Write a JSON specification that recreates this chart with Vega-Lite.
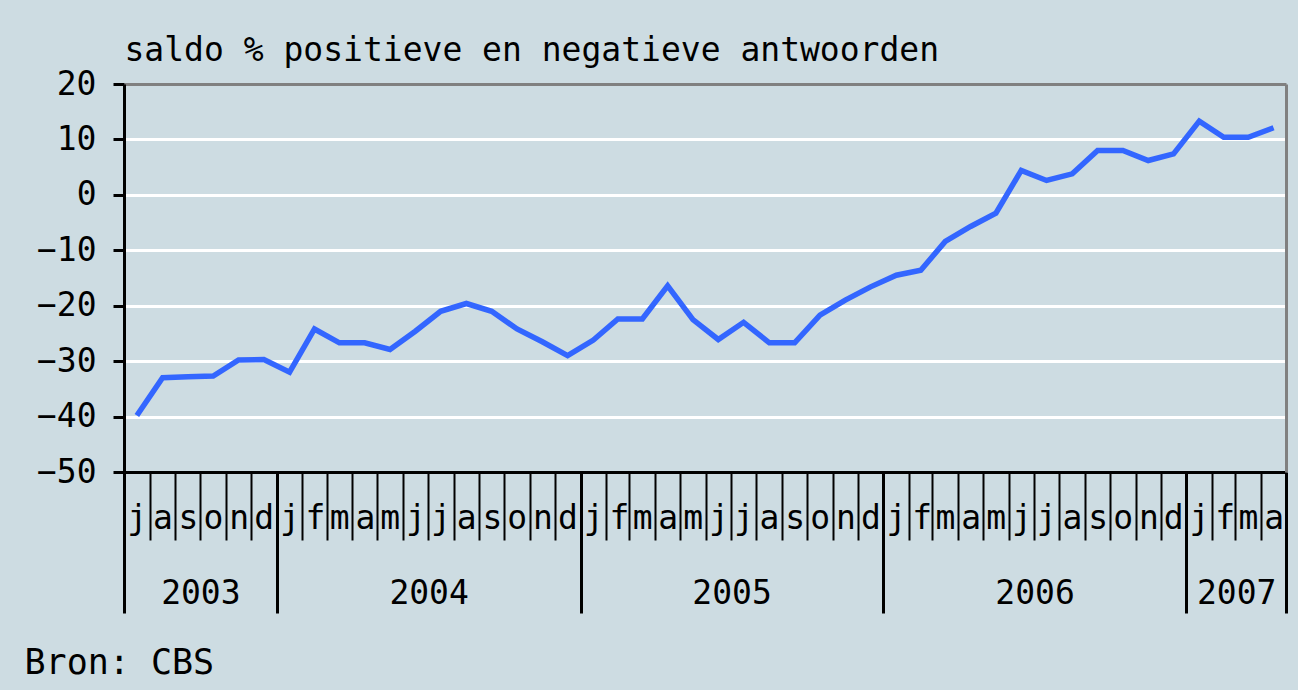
{
  "$schema": "https://vega.github.io/schema/vega-lite/v6.json",
  "width": 1162,
  "height": 388,
  "autosize": {"type": "none"},
  "padding": {"left": 124, "top": 84, "right": 12, "bottom": 218},
  "background": "#cddce2",
  "config": {
    "view": {"stroke": null},
    "axis": {"labelFont": "DejaVu Sans Mono", "labelColor": "black", "titleFont": "DejaVu Sans Mono", "titleColor": "black"}
  },
  "data": {
    "values": [
      {"maand": "2003/07/01", "saldo": -39.8},
      {"maand": "2003/08/01", "saldo": -33},
      {"maand": "2003/09/01", "saldo": -32.8},
      {"maand": "2003/10/01", "saldo": -32.7},
      {"maand": "2003/11/01", "saldo": -29.8},
      {"maand": "2003/12/01", "saldo": -29.7},
      {"maand": "2004/01/01", "saldo": -32},
      {"maand": "2004/02/01", "saldo": -24.2},
      {"maand": "2004/03/01", "saldo": -26.7},
      {"maand": "2004/04/01", "saldo": -26.7},
      {"maand": "2004/05/01", "saldo": -27.9},
      {"maand": "2004/06/01", "saldo": -24.6},
      {"maand": "2004/07/01", "saldo": -21},
      {"maand": "2004/08/01", "saldo": -19.6},
      {"maand": "2004/09/01", "saldo": -21},
      {"maand": "2004/10/01", "saldo": -24.2},
      {"maand": "2004/11/01", "saldo": -26.5},
      {"maand": "2004/12/01", "saldo": -29},
      {"maand": "2005/01/01", "saldo": -26.2},
      {"maand": "2005/02/01", "saldo": -22.4},
      {"maand": "2005/03/01", "saldo": -22.4},
      {"maand": "2005/04/01", "saldo": -16.4},
      {"maand": "2005/05/01", "saldo": -22.5},
      {"maand": "2005/06/01", "saldo": -26.1},
      {"maand": "2005/07/01", "saldo": -23},
      {"maand": "2005/08/01", "saldo": -26.7},
      {"maand": "2005/09/01", "saldo": -26.7},
      {"maand": "2005/10/01", "saldo": -21.7},
      {"maand": "2005/11/01", "saldo": -19},
      {"maand": "2005/12/01", "saldo": -16.6},
      {"maand": "2006/01/01", "saldo": -14.5},
      {"maand": "2006/02/01", "saldo": -13.6},
      {"maand": "2006/03/01", "saldo": -8.4},
      {"maand": "2006/04/01", "saldo": -5.7},
      {"maand": "2006/05/01", "saldo": -3.3},
      {"maand": "2006/06/01", "saldo": 4.4},
      {"maand": "2006/07/01", "saldo": 2.6},
      {"maand": "2006/08/01", "saldo": 3.8},
      {"maand": "2006/09/01", "saldo": 8},
      {"maand": "2006/10/01", "saldo": 8},
      {"maand": "2006/11/01", "saldo": 6.2},
      {"maand": "2006/12/01", "saldo": 7.4},
      {"maand": "2007/01/01", "saldo": 13.3},
      {"maand": "2007/02/01", "saldo": 10.4},
      {"maand": "2007/03/01", "saldo": 10.4},
      {"maand": "2007/04/01", "saldo": 12.1}
    ]
  },
  "resolve": {"axis": {"x": "independent", "y": "independent"}},
  "layer": [
    {
      "mark": {"type": "line", "opacity": 0},
      "encoding": {
        "x": {
          "field": "maand", "type": "temporal", "timeUnit": "yearmonth", "bandPosition": 0.5,
          "scale": {"domain": [{"year": 2003, "month": 7, "date": 1}, {"year": 2007, "month": 5, "date": 1}]},
          "axis": {
            "orient": "bottom", "domain": false, "ticks": false, "tickSize": 0, "grid": false,
            "tickCount": {"interval": "month", "step": 1},
            "labelExpr": "datum.value >= datetime(2007, 4, 1) ? '' : lower(substring(timeFormat(datum.value, '%b'), 0, 1))",
            "labelPadding": 56, "labelBaseline": "alphabetic", "labelOffset": 12.6,
            "labelOverlap": false, "labelFlush": false, "labelBound": false,
            "labelFontSize": 33, "title": null, "zindex": 1
          }
        },
        "y": {
          "field": "saldo", "type": "quantitative",
          "scale": {"domain": [-50, 20], "nice": false, "zero": false},
          "axis": {
            "orient": "left", "grid": true, "gridColor": "white", "gridWidth": 3, "gridOpacity": 1,
            "domain": false, "ticks": false, "labels": false, "title": null,
            "values": [-40, -30, -20, -10, 0, 10], "zindex": 0
          }
        }
      }
    },
    {
      "mark": {"type": "line", "color": "#3366ff", "strokeWidth": 5.5},
      "encoding": {
        "x": {
          "field": "maand", "type": "temporal", "timeUnit": "yearmonth", "bandPosition": 0.5,
          "axis": {
            "orient": "bottom", "domain": true, "domainColor": "black", "domainWidth": 3,
            "ticks": true, "tickColor": "black", "tickWidth": 2, "tickSize": 68,
            "tickCount": {"interval": "month", "step": 1},
            "labels": false, "grid": false, "title": null, "zindex": 1
          }
        },
        "y": {
          "field": "saldo", "type": "quantitative",
          "axis": {
            "orient": "left", "values": [-50, -40, -30, -20, -10, 0, 10, 20],
            "domain": true, "domainColor": "black", "domainWidth": 3,
            "ticks": true, "tickColor": "black", "tickWidth": 3, "tickSize": 11,
            "labelPadding": 17, "labelFontSize": 33, "labelBaseline": "middle",
            "labelFlush": false, "labelBound": false,
            "grid": false, "title": null, "zindex": 1
          }
        }
      }
    },
    {
      "mark": {"type": "line", "opacity": 0},
      "encoding": {
        "x": {
          "field": "maand", "type": "temporal", "timeUnit": "yearmonth", "bandPosition": 0.5,
          "axis": {
            "orient": "bottom", "domain": false, "ticks": true, "tickColor": "black", "tickWidth": 3, "tickSize": 141,
            "values": [
              {"year": 2003, "month": 7, "date": 1},
              {"year": 2004, "month": 1, "date": 1},
              {"year": 2005, "month": 1, "date": 1},
              {"year": 2006, "month": 1, "date": 1},
              {"year": 2007, "month": 1, "date": 1},
              {"year": 2007, "month": 5, "date": 1}
            ],
            "labels": false, "grid": false, "title": null, "zindex": 1
          }
        },
        "y": {
          "field": "saldo", "type": "quantitative",
          "axis": {
            "orient": "right", "domain": true, "domainColor": "#808080", "domainWidth": 3,
            "ticks": false, "labels": false, "grid": false, "title": null, "zindex": 1
          }
        }
      }
    },
    {
      "mark": {"type": "line", "opacity": 0},
      "encoding": {
        "x": {
          "field": "maand", "type": "temporal", "timeUnit": "yearmonth", "bandPosition": 0.5,
          "axis": {
            "orient": "bottom", "domain": false, "ticks": false, "tickSize": 0, "grid": false,
            "values": [
              {"year": 2003, "month": 10, "date": 1},
              {"year": 2004, "month": 7, "date": 2},
              {"year": 2005, "month": 7, "date": 2},
              {"year": 2006, "month": 7, "date": 2},
              {"year": 2007, "month": 3, "date": 2}
            ],
            "format": "%Y",
            "labelPadding": 131, "labelBaseline": "alphabetic", "labelFontSize": 33,
            "labelOverlap": false, "labelFlush": false, "labelBound": false,
            "title": "Bron: CBS", "titleX": -100, "titleY": 201, "titleAlign": "left",
            "titleBaseline": "alphabetic", "titleAngle": 0, "titleFontSize": 35,
            "titleFontWeight": "normal", "zindex": 1
          }
        },
        "y": {"field": "saldo", "type": "quantitative", "axis": null}
      }
    },
    {
      "mark": {"type": "line", "opacity": 0},
      "encoding": {
        "x": {
          "field": "maand", "type": "temporal", "timeUnit": "yearmonth", "bandPosition": 0.5,
          "axis": {
            "orient": "top", "domain": true, "domainColor": "#808080", "domainWidth": 3,
            "ticks": false, "labels": false, "grid": false,
            "title": "saldo % positieve en negatieve antwoorden",
            "titleX": 0, "titleY": -24, "titleAlign": "left", "titleBaseline": "alphabetic",
            "titleAngle": 0, "titleFontSize": 33, "titleFontWeight": "normal", "zindex": 1
          }
        },
        "y": {"field": "saldo", "type": "quantitative", "axis": null}
      }
    }
  ]
}
